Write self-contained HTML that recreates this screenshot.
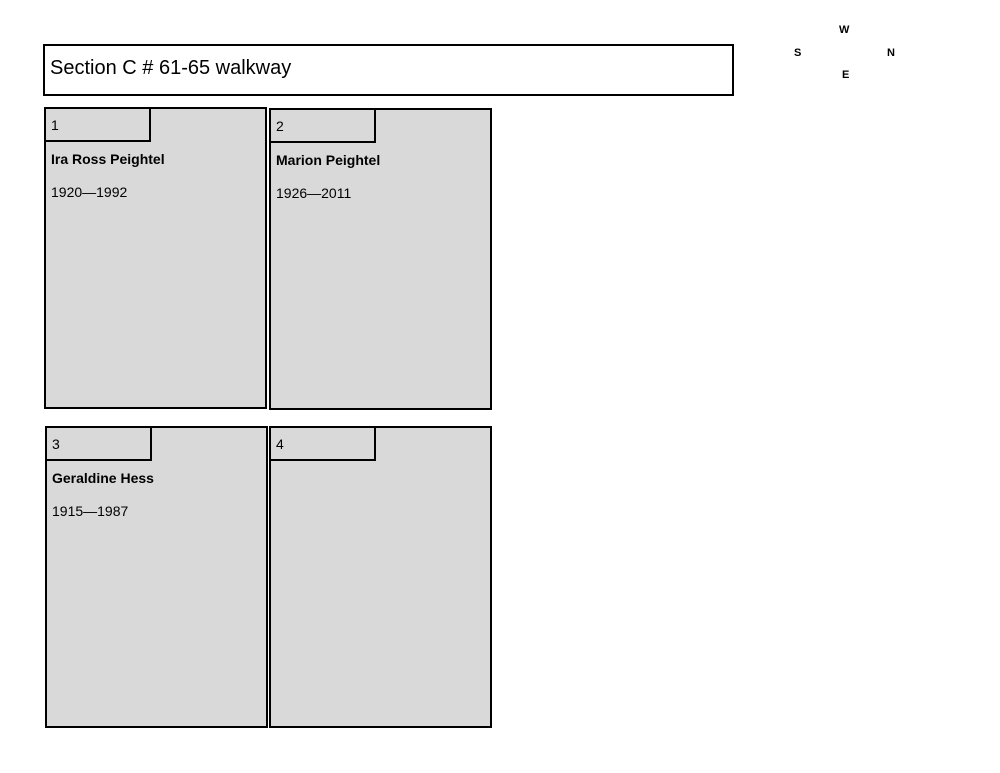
<!DOCTYPE html>
<html><head><meta charset="utf-8"><style>
body{margin:0;width:1000px;height:773px;background:#fff;position:relative;overflow:hidden;font-family:"Liberation Sans",sans-serif;color:#000}
.b{position:absolute;box-sizing:border-box;border:2px solid #000;background:#d9d9d9}
.t{position:absolute;box-sizing:border-box;border:2px solid #000;background:#d9d9d9;left:-2px;top:-2px;width:107px;height:35px;font-size:14px;padding:8px 0 0 5px}
.n{position:absolute;left:5px;font-size:14px;font-weight:bold}
.d{position:absolute;left:5px;font-size:14px}
.c{position:absolute;font-size:11px;font-weight:bold}
</style></head><body>
<div class="b" style="left:43px;top:44px;width:691px;height:52px;background:#fff;font-size:20px;padding:11px 0 0 5px">Section C # 61-65 walkway</div>
<div class="c" style="left:839px;top:24px">W</div>
<div class="c" style="left:794px;top:47px">S</div>
<div class="c" style="left:887px;top:47px">N</div>
<div class="c" style="left:842px;top:69px">E</div>

<div class="b" style="left:44px;top:107px;width:223px;height:302px"><div class="t">1</div><div class="n" style="top:42px">Ira Ross Peightel</div><div class="d" style="top:75px">1920—1992</div></div>
<div class="b" style="left:269px;top:108px;width:223px;height:302px"><div class="t">2</div><div class="n" style="top:42px">Marion Peightel</div><div class="d" style="top:75px">1926—2011</div></div>
<div class="b" style="left:45px;top:426px;width:223px;height:302px"><div class="t">3</div><div class="n" style="top:42px">Geraldine Hess</div><div class="d" style="top:75px">1915—1987</div></div>
<div class="b" style="left:269px;top:426px;width:223px;height:302px"><div class="t">4</div></div>
</body></html>
